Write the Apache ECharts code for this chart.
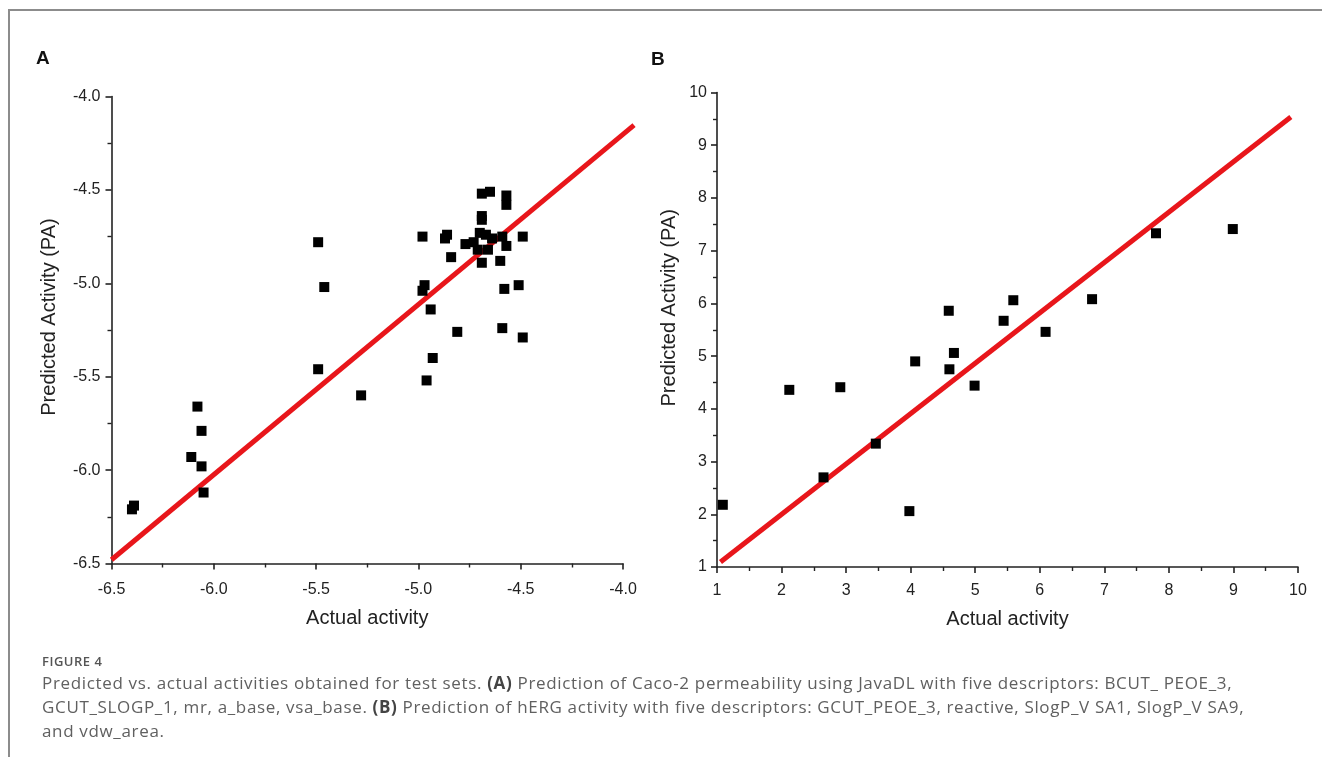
<!DOCTYPE html>
<html>
<head>
<meta charset="utf-8">
<script src="https://cdn.jsdelivr.net/npm/echarts@6/dist/echarts.min.js"></script>
<style>
    html, body {
        margin: 0;
        padding: 0;
        background: #fff;
        width: 1322px;
        height: 757px;
        overflow: hidden;
    }

    .frame {
        position: absolute;
        left: 8px;
        top: 9px;
        right: 0;
        bottom: 0;
        border-top: 2px solid #8c8c8c;
        border-left: 2px solid #8c8c8c;
    }

    #chart {
        position: absolute;
        left: 0;
        top: 0;
        width: 1322px;
        height: 757px;
    }

    .caption {
        position: absolute;
        left: 42px;
        top: 654px;
        color: #606060;
        font-family: "Open Sans", sans-serif;
        white-space: nowrap;
    }

    .caption .fig {
        font-size: 13px;
        line-height: 14px;
        font-weight: 600;
        letter-spacing: 0.5px;
        color: #555;
    }

    .caption p {
        margin: 3px 0 0 0;
        font-size: 17px;
        line-height: 24px;
        letter-spacing: 0.66px;
    }

    .caption b {
        font-weight: 700;
        color: #444;
    }
</style>
</head>
<body>
<div class="frame"></div>
<div id="chart"></div>
<div class="caption">
    <div class="fig">FIGURE 4</div>
    <p>Predicted vs. actual activities obtained for test sets. <b>(A)</b> Prediction of Caco-2 permeability using JavaDL with five descriptors: BCUT_ PEOE_3,<br>GCUT_SLOGP_1, mr, a_base, vsa_base. <b>(B)</b> Prediction of hERG activity with five descriptors: GCUT_PEOE_3, reactive, SlogP_V SA1, SlogP_V SA9,<br>and vdw_area.</p>
</div>
<script>
    // panel A : Caco-2 permeability (actual, predicted)
    var caco2Actual = [-6.40, -6.39, -6.08, -6.06, -6.11, -6.06, -6.05, -5.49, -5.46, -5.49, -5.28,
        -4.98, -4.97, -4.98, -4.96, -4.94, -4.93, -4.87, -4.86, -4.84, -4.81, -4.77, -4.73,
        -4.70, -4.69, -4.65, -4.69, -4.69, -4.69, -4.71, -4.67, -4.66, -4.64, -4.60, -4.59,
        -4.57, -4.57, -4.57, -4.58, -4.59, -4.51, -4.49, -4.49];
    var caco2Pred = [-6.21, -6.19, -5.66, -5.79, -5.93, -5.98, -6.12, -4.78, -5.02, -5.46, -5.60,
        -4.75, -5.01, -5.04, -5.52, -5.14, -5.40, -4.76, -4.74, -4.86, -5.26, -4.79, -4.78,
        -4.73, -4.52, -4.51, -4.64, -4.66, -4.89, -4.82, -4.74, -4.82, -4.76, -4.88, -4.75,
        -4.53, -4.58, -4.80, -5.03, -5.24, -5.01, -4.75, -5.29];
    var caco2Fit = [[-6.5, -6.48], [-3.946, -4.153]];

    // panel B : hERG activity (actual, predicted)
    var hergActual = [1.09, 2.12, 2.65, 2.91, 3.46, 3.98, 4.07, 4.59, 4.60, 4.67, 4.99, 5.44, 5.59,
        6.09, 6.81, 7.80, 8.99];
    var hergPred = [2.18, 4.36, 2.70, 4.41, 3.34, 2.06, 4.90, 5.86, 4.75, 5.06, 4.44, 5.67, 6.06,
        5.46, 6.08, 7.33, 7.41];
    var hergFit = [[1.054, 1.094], [9.889, 9.536]];

    var rangeA = [-6.5, -4.0];
    var rangeB = [1, 10];

    function pairs(xs, ys) {
        var out = [];
        for (var i = 0; i < xs.length; i++) {
            out.push([xs[i], ys[i]]);
        }
        return out;
    }

    var font = 'Liberation Sans, Arial, sans-serif';

    function valueAxis(idx, range, step, dec, name, gap, margin, isY, shift) {
        return {
            type: 'value',
            gridIndex: idx,
            min: range[0],
            max: range[1],
            interval: step,
            name: name,
            nameLocation: 'middle',
            nameGap: gap,
            nameTextStyle: {
                fontFamily: font,
                fontSize: 20,
                color: '#222',
                padding: isY ? [0, 0, 0, shift] : 0
            },
            axisLine: {show: true, lineStyle: {color: '#222', width: 1.6}},
            axisTick: {show: true, inside: false, length: 6, lineStyle: {color: '#222', width: 1.6}},
            minorTick: {show: true, splitNumber: 2, length: 4, lineStyle: {color: '#222', width: 1.4}},
            splitLine: {show: false},
            axisLabel: {
                margin: margin,
                fontFamily: font,
                fontSize: 16,
                color: '#222',
                formatter: function (v) {
                    return v.toFixed(dec);
                }
            }
        };
    }

    // fit line drawn through the axes' own scales, not clipped to the grid
    function fitLine(idx, pts) {
        return {
            type: 'custom',
            xAxisIndex: idx,
            yAxisIndex: idx,
            clip: false,
            z: 1,
            data: [pts[0].concat(pts[1])],
            renderItem: function (params, api) {
                var p1 = api.coord([api.value(0), api.value(1)]);
                var p2 = api.coord([api.value(2), api.value(3)]);
                return {
                    type: 'line',
                    shape: {x1: p1[0], y1: p1[1], x2: p2[0], y2: p2[1]},
                    style: {stroke: '#e8161b', lineWidth: 5}
                };
            }
        };
    }

    var myChart = echarts.init(document.getElementById('chart'));

    var option = {
        animation: false,
        backgroundColor: 'transparent',
        grid: [
            {left: 111.5, right: 699, top: 96.5, bottom: 193.5},
            {left: 717, right: 24, top: 92.5, bottom: 190}
        ],
        xAxis: [
            valueAxis(0, rangeA, 0.5, 1, 'Actual activity', 45, 18, false, 0),
            valueAxis(1, rangeB, 1, 0, 'Actual activity', 42, 16, false, 0)
        ],
        yAxis: [
            valueAxis(0, rangeA, 0.5, 1, 'Predicted Activity (PA)', 52, 11, true, 26),
            valueAxis(1, rangeB, 1, 0, 'Predicted Activity (PA)', 38, 10, true, 44)
        ],
        graphic: [
            {type: 'text', left: 36, top: 49, style: {text: 'A', font: 'bold 19px ' + font, fill: '#111'}},
            {type: 'text', left: 651, top: 50, style: {text: 'B', font: 'bold 19px ' + font, fill: '#111'}}
        ],
        series: [
            fitLine(0, caco2Fit),
            {
                type: 'scatter',
                xAxisIndex: 0,
                yAxisIndex: 0,
                data: pairs(caco2Actual, caco2Pred),
                symbol: 'rect',
                symbolSize: 10,
                z: 2,
                itemStyle: {color: '#000', opacity: 1}
            },
            fitLine(1, hergFit),
            {
                type: 'scatter',
                xAxisIndex: 1,
                yAxisIndex: 1,
                data: pairs(hergActual, hergPred),
                symbol: 'rect',
                symbolSize: 10,
                z: 2,
                itemStyle: {color: '#000', opacity: 1}
            }
        ]
    };

    if (option && typeof option === "object") {
        myChart.setOption(option, true);
    }
</script>
</body>
</html>
